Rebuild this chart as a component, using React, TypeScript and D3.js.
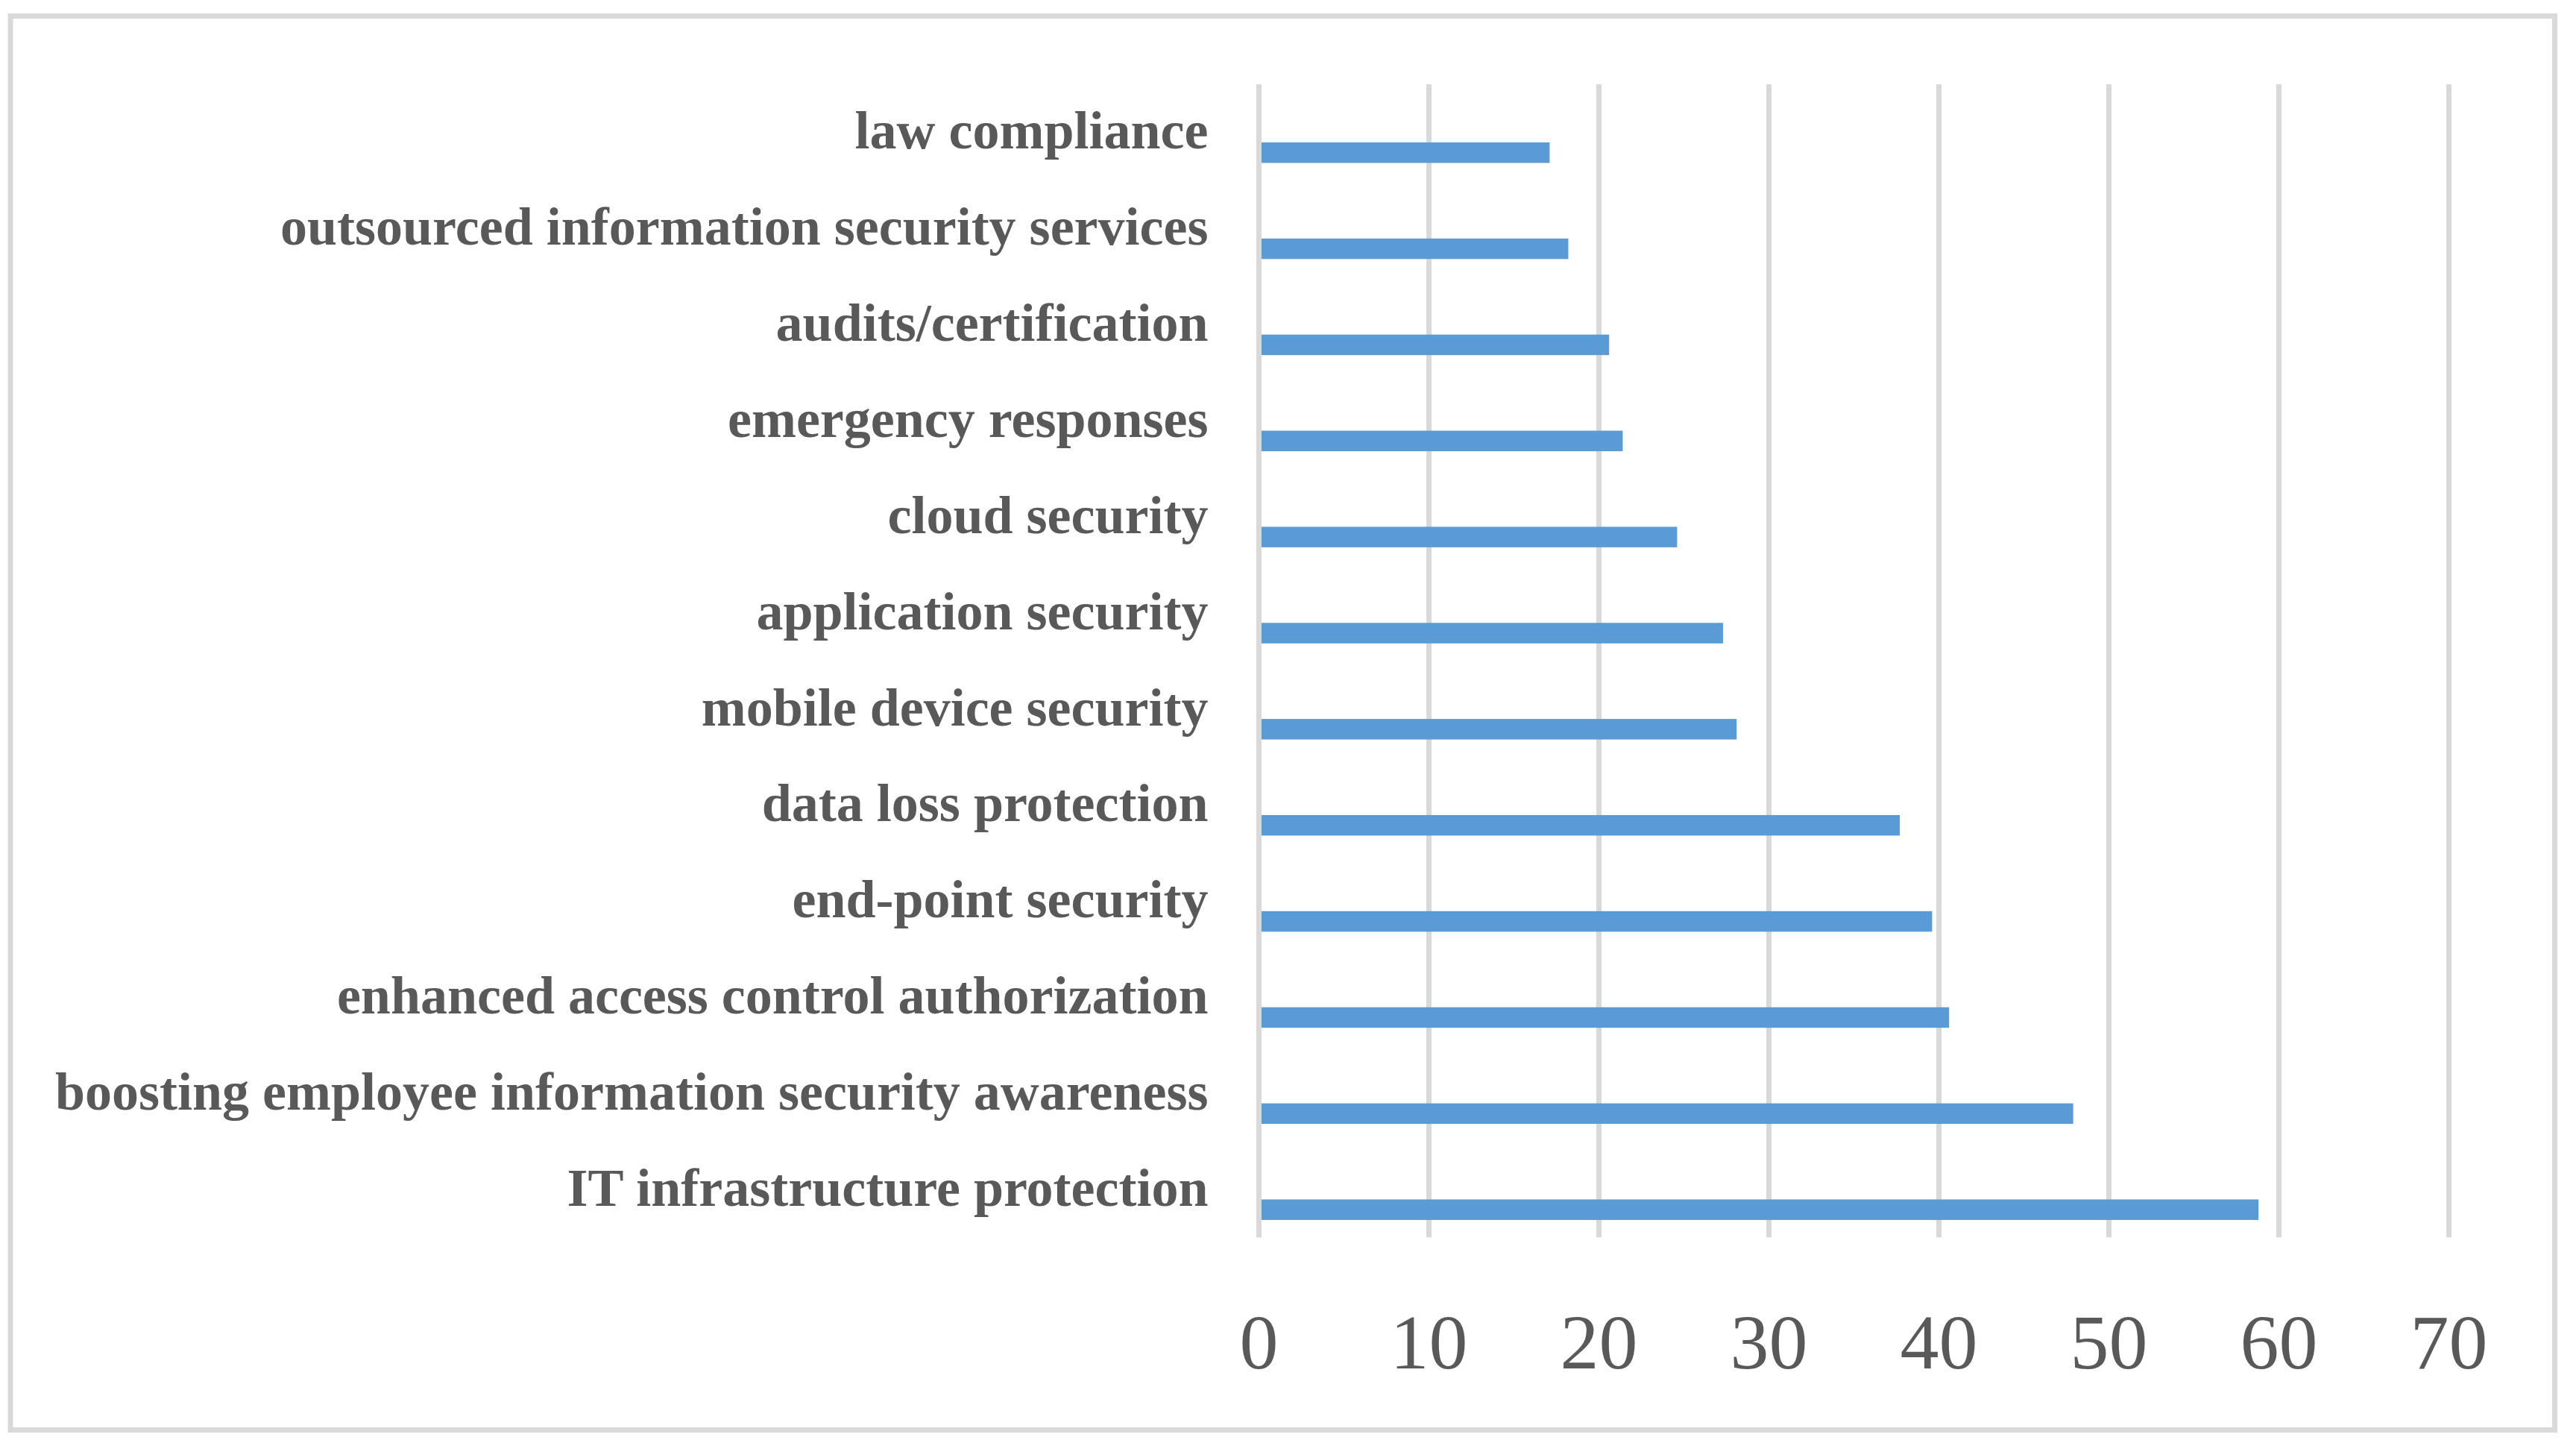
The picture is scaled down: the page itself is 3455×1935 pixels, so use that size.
import React from "react";
import * as d3 from "d3";

const categories = [
  "law compliance",
  "outsourced information security services",
  "audits/certification",
  "emergency responses",
  "cloud security",
  "application security",
  "mobile device security",
  "data loss protection",
  "end-point security",
  "enhanced access control authorization",
  "boosting employee information security awareness",
  "IT infrastructure protection",
];

const values = [17.1, 18.2, 20.6, 21.4, 24.6, 27.3, 28.1, 37.7, 39.6, 40.6, 47.9, 58.8];

const xTicks = [0, 10, 20, 30, 40, 50, 60, 70];

const W = 3455;
const H = 1935;
const TEXT = "#595959";
const GRID = "#d9d9d9";
const BAR = "#5b9bd5";

export default function App() {
  const x = d3.scaleLinear().domain([0, 70]).range([1688.5, 3284.5]);
  const y = d3.scaleBand<string>().domain(categories).range([113, 1659.3]).padding(0);
  const bw = y.bandwidth();
  const barOffset = bw * 0.605;
  const barH = bw * 0.2135;

  return (
    <svg
      width={W}
      height={H}
      viewBox={`0 0 ${W} ${H}`}
      style={{ position: "absolute", left: 0, top: 0, background: "#fff" }}
    >
      <rect x={0} y={0} width={W} height={H} fill="#fff" />
      <rect x={14} y={21.5} width={3426.5 - 14} height={1917.5 - 21.5} fill="#fff" stroke={GRID} strokeWidth={7} />
      {xTicks.map((t) => (
        <line key={"g" + t} x1={x(t)} x2={x(t)} y1={113} y2={1659.3} stroke={GRID} strokeWidth={7} />
      ))}
      {categories.map((c, i) => (
        <rect
          key={"b" + c}
          x={x(0)}
          y={(y(c) as number) + barOffset}
          width={x(values[i]) - x(0)}
          height={barH}
          fill={BAR}
        />
      ))}
      <line x1={x(0)} x2={x(0)} y1={113} y2={1659.3} stroke={GRID} strokeWidth={7} />
      {categories.map((c) => (
        <text
          key={"l" + c}
          x={x(0) - 68}
          y={(y(c) as number) + bw / 2 + 22}
          textAnchor="end"
          fontFamily="'Liberation Serif', 'Times New Roman', serif"
          fontWeight="bold"
          fontSize={72}
          fill={TEXT}
        >
          {c}
        </text>
      ))}
      {xTicks.map((t) => (
        <text
          key={"t" + t}
          x={x(t)}
          y={1835}
          textAnchor="middle"
          fontFamily="'Liberation Serif', 'Times New Roman', serif"
          fontSize={104}
          fill={TEXT}
        >
          {t}
        </text>
      ))}
    </svg>
  );
}
